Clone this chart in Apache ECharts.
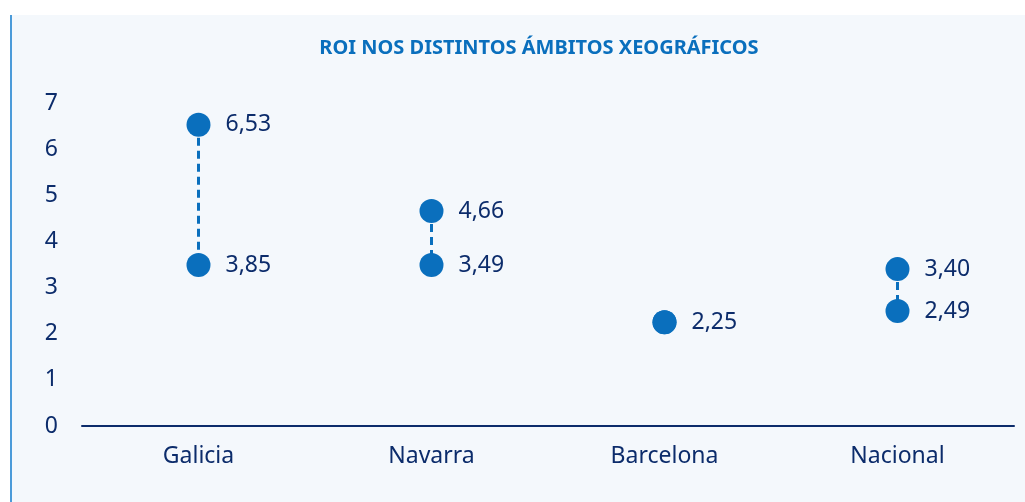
<!DOCTYPE html>
<html>
<head>
<meta charset="utf-8">
<script src="https://cdn.jsdelivr.net/npm/echarts@6/dist/echarts.min.js"></script>
<style>html,body{margin:0;padding:0;background:#fff}#c{width:1025px;height:502px}</style>
</head>
<body>
<div id="c"></div>
<script>
const categories = ['Galicia', 'Navarra', 'Barcelona', 'Nacional'];
// positions of the upper and lower dots as drawn
const highValues = [6.53, 4.66, 2.25, 3.40];
const lowValues = [3.49, 3.49, 2.25, 2.49];
// printed labels
const highLabels = ['6,53', '4,66', '2,25', '3,40'];
const lowLabels = ['3,85', '3,49', '', '2,49'];
const yTicks = [0, 1, 2, 3, 4, 5, 6, 7];

const navy = '#0c2c6b';
const blue = '#0a6fbd';
const font = '"Noto Sans", "Open Sans", sans-serif';

const chart = echarts.init(document.getElementById('c'), null, {renderer: 'canvas'});
chart.setOption({
  backgroundColor: '#ffffff',
  animation: false,
  graphic: [
    {type: 'rect', silent: true, z: -10, shape: {x: 12, y: 15, width: 1013, height: 487}, style: {fill: '#f4f8fc'}},
    {type: 'line', silent: true, z: -9, shape: {x1: 11, y1: 15, x2: 11, y2: 502}, style: {stroke: '#4b9bd9', lineWidth: 2}}
  ],
  title: {
    text: 'ROI NOS DISTINTOS ÁMBITOS XEOGRÁFICOS',
    left: 534, top: 33, textAlign: 'center',
    textStyle: {color: blue, fontSize: 20, fontWeight: 'bold', fontFamily: font}
  },
  grid: {left: 82, right: 11, top: 103, bottom: 76},
  xAxis: {
    type: 'category', data: categories,
    axisLine: {lineStyle: {color: navy, width: 2}},
    axisTick: {show: false},
    axisLabel: {color: navy, fontSize: 23, fontFamily: font, margin: 19}
  },
  yAxis: {
    type: 'value', min: 0, max: yTicks[yTicks.length - 1], interval: 1,
    splitLine: {show: false}, axisLine: {show: false}, axisTick: {show: false},
    axisLabel: {color: navy, fontSize: 23, fontFamily: font, margin: 24,
      formatter: v => yTicks.includes(v) ? String(v) : ''}
  },
  series: [
    {
      type: 'custom', z: 1,
      data: categories.map((c, i) => [i, lowValues[i], highValues[i]]),
      renderItem: (params, api) => {
        const lo = api.coord([api.value(0), api.value(1)]);
        const hi = api.coord([api.value(0), api.value(2)]);
        if (Math.abs(lo[1] - hi[1]) < 1) return null;
        return {type: 'line', shape: {x1: hi[0], y1: hi[1], x2: lo[0], y2: lo[1]},
          style: {stroke: blue, lineWidth: 3, lineDash: [8, 5]}};
      }
    },
    {
      type: 'scatter', z: 3, symbolSize: 24,
      itemStyle: {color: blue, opacity: 1},
      data: highValues.map((v, i) => [i, v]),
      label: {show: true, position: 'right', distance: 15, color: navy, fontSize: 23, fontFamily: font,
        formatter: p => highLabels[p.dataIndex]}
    },
    {
      type: 'scatter', z: 3, symbolSize: 24,
      itemStyle: {color: blue, opacity: 1},
      data: lowValues.map((v, i) => [i, v]),
      label: {show: true, position: 'right', distance: 15, color: navy, fontSize: 23, fontFamily: font,
        formatter: p => lowLabels[p.dataIndex]}
    }
  ]
});
</script>
</body>
</html>
